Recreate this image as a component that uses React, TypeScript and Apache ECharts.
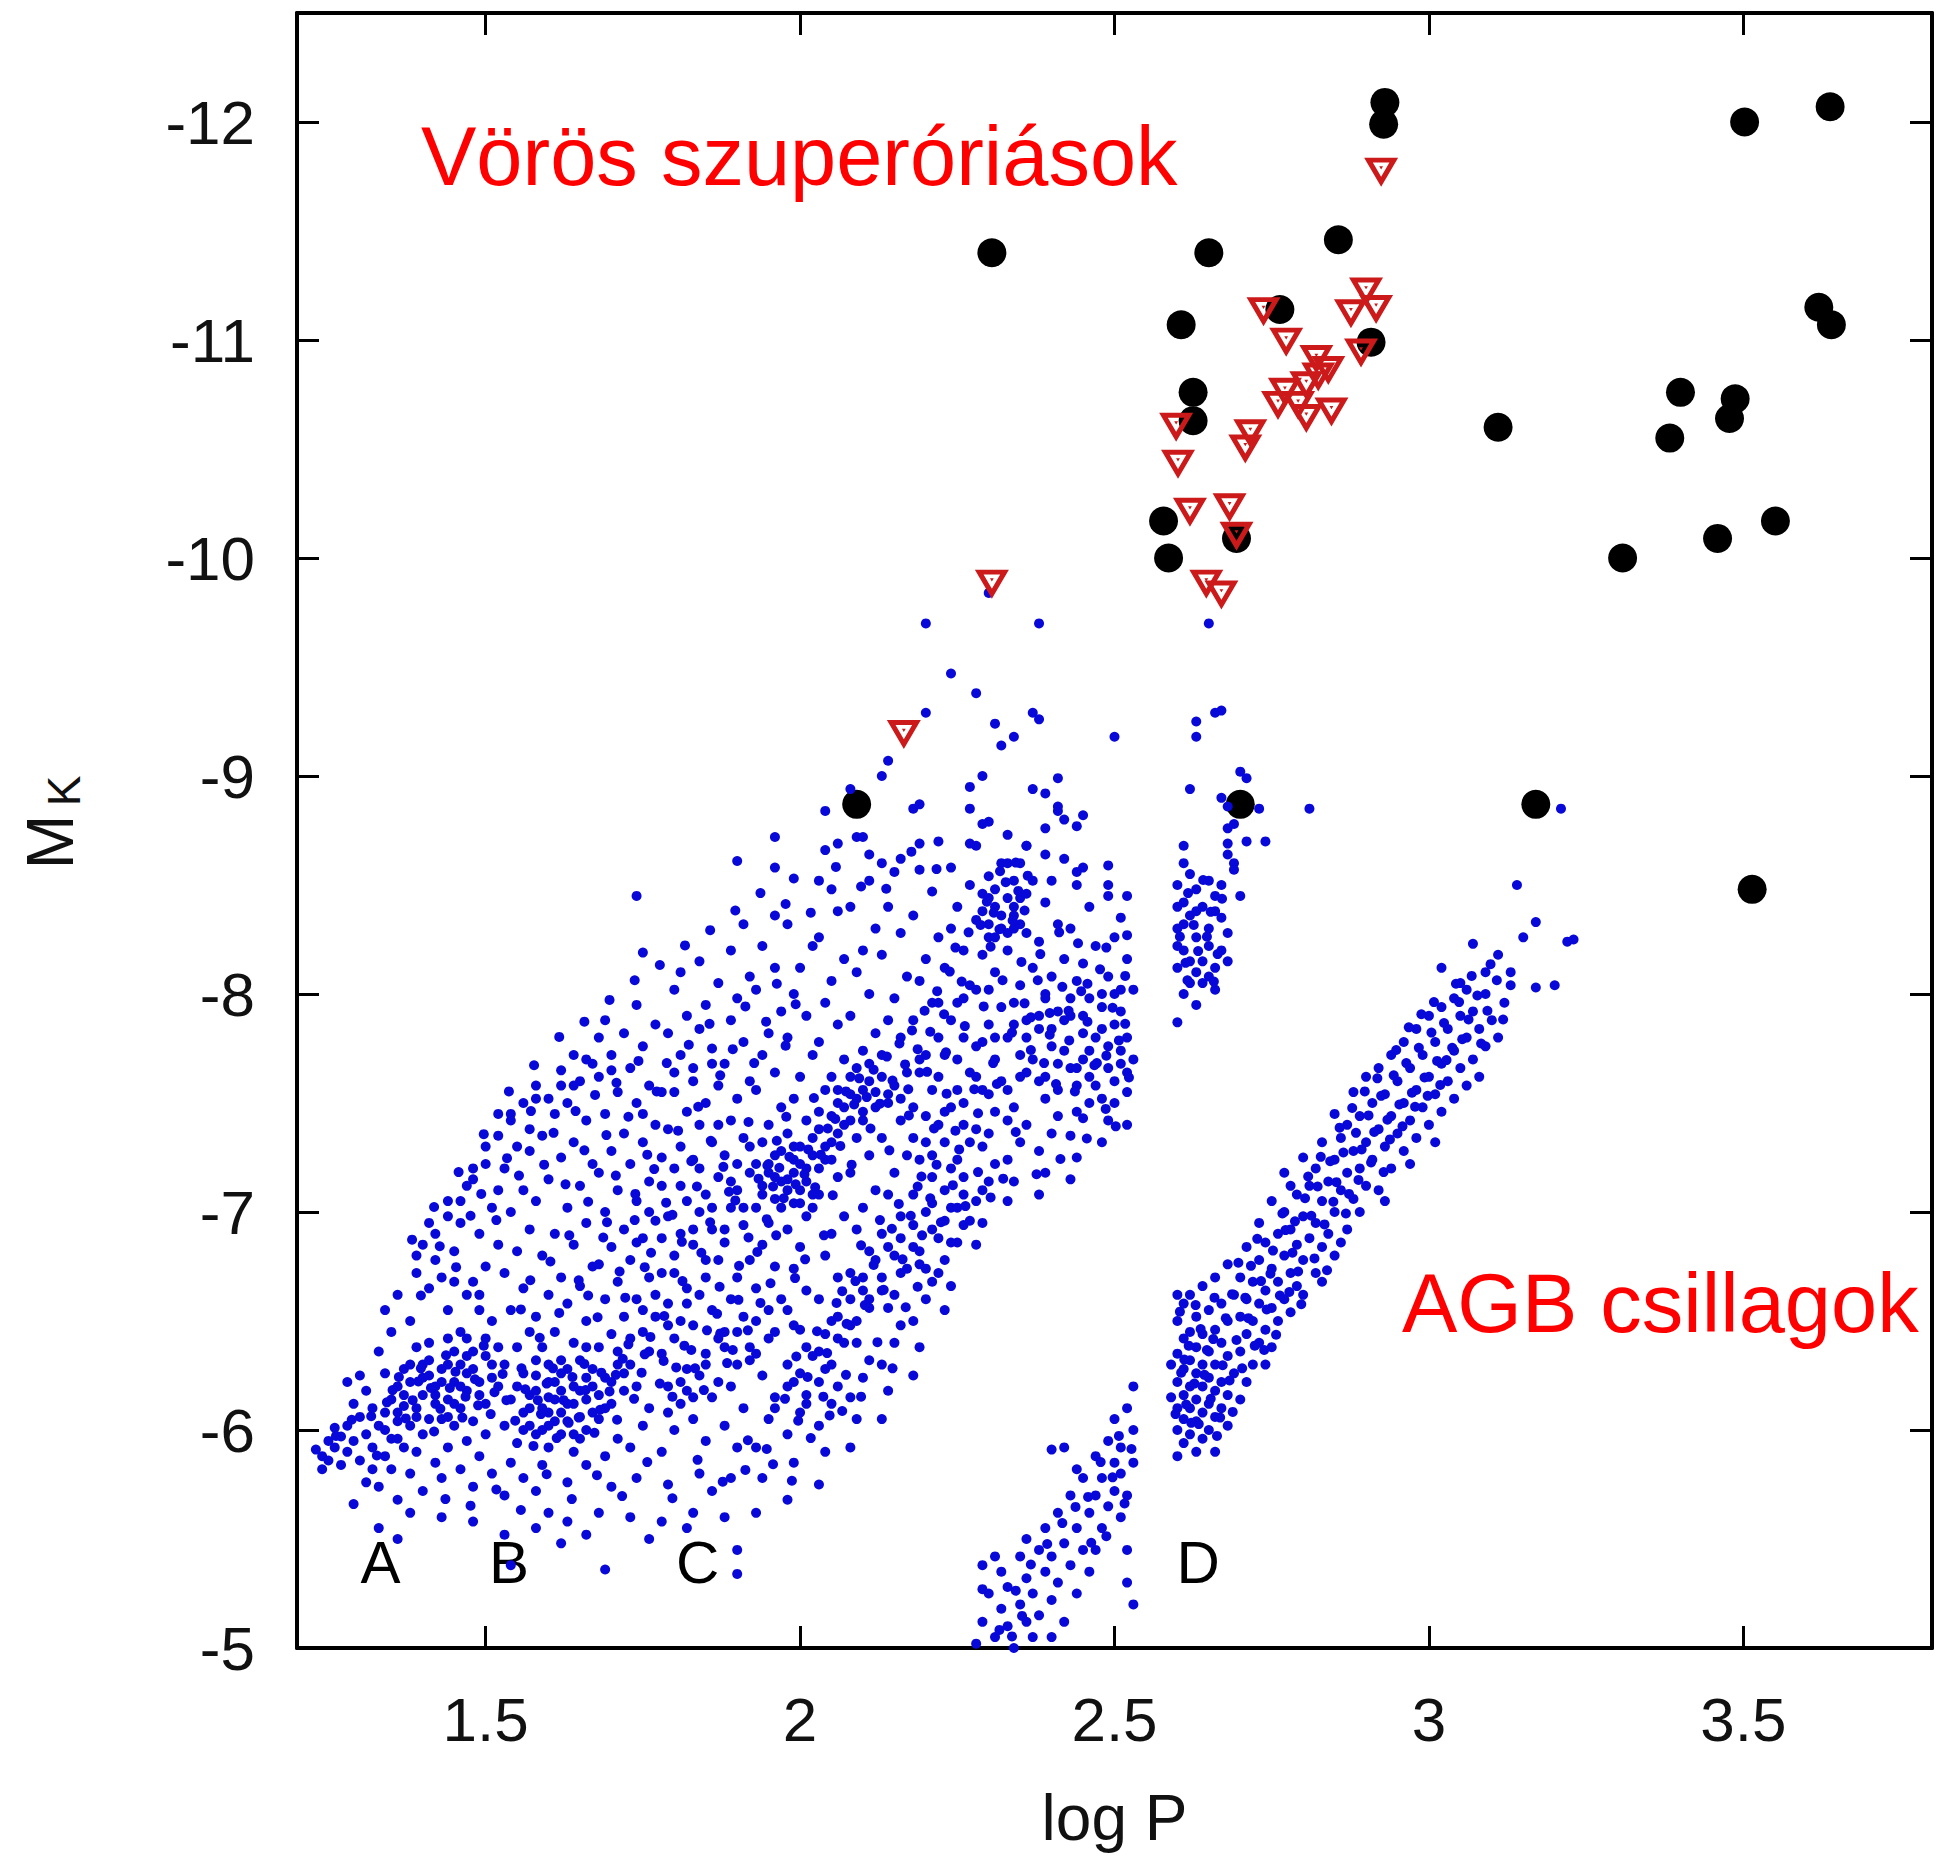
import React, { useEffect, useRef } from 'react';
import * as echarts from 'echarts';

const FONT = 'Liberation Sans, Arial, Helvetica, sans-serif';

const X_MIN = 1.2;
const X_MAX = 3.8;
const Y_MIN = -12.5;
const Y_MAX = -5;
const X_TICKS = [1.5, 2, 2.5, 3, 3.5];
const Y_TICKS = [-12, -11, -10, -9, -8, -7, -6, -5];

const SEQ_NAMES = ['A', 'B', 'C', 'D'];
const SEQ_X = [1.333, 1.537, 1.837, 2.633];
const SEQ_Y = -5.39;

// Red supergiants: filled black circles [logP, MK]
const blackStars = [
  [2.305, -11.4], [2.09, -8.87], [2.65, -11.4], [2.606, -11.07], [2.625, -10.76], [2.625, -10.63],
  [2.578, -10.17], [2.586, -10.0], [2.694, -10.09], [2.70, -8.87], [2.763, -11.14], [2.856, -11.46],
  [2.908, -10.99], [2.93, -12.09], [2.928, -11.99], [3.11, -10.6], [3.17, -8.87], [3.308, -10.0],
  [3.383, -10.55], [3.40, -10.76], [3.478, -10.64], [3.487, -10.73], [3.459, -10.09], [3.551, -10.17],
  [3.502, -12.0], [3.638, -12.07], [3.62, -11.15], [3.64, -11.07], [3.514, -8.48]
];

// Red supergiants: open red triangles [logP, MK]
const redStars = [
  [2.924, -11.77], [2.305, -9.88], [2.165, -9.19], [2.737, -11.13], [2.773, -10.99], [2.90, -11.22],
  [2.876, -11.12], [2.916, -11.14], [2.892, -10.94], [2.821, -10.91], [2.84, -10.86], [2.824, -10.83],
  [2.805, -10.79], [2.771, -10.76], [2.792, -10.7], [2.76, -10.7], [2.805, -10.64], [2.845, -10.67],
  [2.598, -10.6], [2.716, -10.57], [2.708, -10.5], [2.601, -10.43], [2.62, -10.21], [2.683, -10.23],
  [2.694, -10.1], [2.646, -9.88], [2.67, -9.83]
];

// AGB stars (blue dots), flat lists x,y,x,y,...
const blueSeqA = [
  1.23,-5.91, 1.24,-5.88, 1.25,-5.95, 1.25,-5.86, 1.26,-5.92, 1.26,-6.01, 1.27,-5.84, 1.27,-5.97, 1.24,-5.82,
  1.28,-5.9, 1.28,-6.02, 1.29,-5.95, 1.29,-6.12, 1.3,-5.86, 1.3,-6.06, 1.31,-5.98, 1.31,-6.18, 1.32,-5.92, 1.32,-6.1, 1.29,-5.66, 1.31,-5.76, 1.28,-6.22, 1.3,-6.25, 1.32,-5.82,
  1.33,-5.55, 1.33,-5.74, 1.34,-5.88, 1.33,-6.02, 1.34,-6.08, 1.35,-5.96, 1.35,-6.14, 1.36,-6.04, 1.36,-6.2, 1.34,-6.26, 1.37,-5.92, 1.37,-6.11, 1.37,-6.28, 1.35,-5.82, 1.36,-5.68, 1.33,-6.36, 1.35,-6.45, 1.36,-6.62, 1.34,-6.55,
  1.38,-5.62, 1.38,-5.8, 1.39,-5.9, 1.38,-6.02, 1.39,-6.1, 1.4,-6.16, 1.38,-6.22, 1.41,-6.05, 1.41,-6.25, 1.4,-6.3, 1.42,-6.12, 1.42,-6.2, 1.39,-6.38, 1.41,-6.4, 1.4,-5.98, 1.42,-5.85, 1.4,-5.72, 1.38,-6.5, 1.39,-6.72, 1.41,-6.65, 1.4,-6.85, 1.42,-6.78, 1.41,-6.95,
  1.43,-5.6, 1.43,-5.78, 1.44,-5.92, 1.43,-6.05, 1.44,-6.14, 1.45,-6.22, 1.43,-6.28, 1.46,-6.1, 1.46,-6.3, 1.45,-6.36, 1.47,-6.18, 1.47,-6.26, 1.44,-6.42, 1.46,-6.45, 1.45,-6.02, 1.47,-5.95, 1.46,-5.82, 1.44,-6.55, 1.43,-6.7, 1.45,-6.82, 1.47,-6.62, 1.46,-6.95, 1.44,-7.05, 1.47,-7.12, 1.45,-6.68,
  1.48,-5.58, 1.48,-5.74, 1.49,-5.88, 1.48,-6.04, 1.5,-6.12, 1.49,-6.22, 1.51,-6.3, 1.48,-6.36, 1.5,-6.42, 1.52,-6.2, 1.51,-6.5, 1.49,-6.55, 1.52,-6.38, 1.5,-5.98, 1.51,-5.8, 1.48,-6.68, 1.5,-6.75, 1.52,-6.85, 1.49,-6.9, 1.51,-7.02, 1.48,-7.15, 1.5,-7.22, 1.52,-7.1, 1.49,-6.62,
  1.34,-6.0, 1.36,-6.08, 1.37,-6.16, 1.39,-6.06, 1.4,-6.24, 1.42,-6.16, 1.43,-6.22, 1.44,-6.3, 1.45,-6.12, 1.46,-6.2, 1.47,-6.34, 1.48,-6.28, 1.49,-6.16, 1.5,-6.34, 1.51,-6.24, 1.38,-6.3, 1.36,-5.96, 1.41,-6.32, 1.44,-6.06, 1.47,-6.42, 1.36,-5.5
];

const blueSeqB = [
  1.53,-5.52, 1.53,-5.7, 1.54,-5.85, 1.55,-5.94, 1.53,-6.02, 1.56,-6.08, 1.54,-6.14, 1.55,-6.2, 1.57,-6.02, 1.56,-6.26, 1.57,-6.16, 1.53,-6.3, 1.55,-6.38, 1.57,-6.45, 1.54,-6.55, 1.56,-6.65, 1.53,-6.72, 1.55,-6.82, 1.57,-6.92, 1.54,-7.0, 1.56,-7.1, 1.53,-7.2, 1.55,-7.3, 1.57,-7.38, 1.54,-7.45, 1.56,-5.78, 1.54,-5.38,
  1.58,-5.55, 1.58,-5.72, 1.59,-5.84, 1.6,-5.92, 1.58,-5.98, 1.61,-6.04, 1.59,-6.1, 1.6,-6.15, 1.62,-6.08, 1.61,-6.22, 1.58,-6.25, 1.6,-6.3, 1.62,-6.18, 1.59,-6.38, 1.61,-6.45, 1.62,-5.98, 1.6,-6.02, 1.58,-6.52, 1.6,-6.62, 1.62,-6.7, 1.59,-6.8, 1.61,-6.9, 1.58,-7.05, 1.6,-7.15, 1.62,-7.25, 1.59,-7.35, 1.61,-7.45, 1.58,-7.52, 1.62,-7.58, 1.6,-5.62,
  1.63,-5.58, 1.63,-5.76, 1.64,-5.9, 1.65,-5.96, 1.63,-6.04, 1.66,-6.0, 1.64,-6.12, 1.65,-6.18, 1.67,-6.08, 1.66,-6.24, 1.63,-6.28, 1.65,-6.32, 1.67,-6.2, 1.64,-6.4, 1.66,-6.5, 1.63,-6.58, 1.65,-6.66, 1.67,-6.75, 1.64,-6.85, 1.66,-6.95, 1.63,-7.02, 1.65,-7.12, 1.67,-7.22, 1.64,-7.32, 1.66,-7.42, 1.63,-7.5, 1.65,-7.6, 1.67,-7.68, 1.64,-7.72, 1.66,-5.84,
  1.69,-5.36, 1.68,-5.62, 1.7,-5.74, 1.69,-5.88, 1.71,-5.96, 1.68,-6.05, 1.7,-6.12, 1.72,-6.18, 1.69,-6.24, 1.71,-6.3, 1.68,-6.38, 1.7,-6.44, 1.72,-6.52, 1.69,-6.6, 1.71,-6.68, 1.68,-6.76, 1.7,-6.84, 1.72,-6.92, 1.69,-7.0, 1.71,-7.1, 1.68,-7.18, 1.7,-7.28, 1.72,-7.36, 1.69,-7.45, 1.71,-7.55, 1.68,-7.62, 1.7,-7.72, 1.72,-7.82, 1.69,-7.88,
  1.56,-6.0, 1.57,-6.1, 1.58,-6.18, 1.59,-6.0, 1.6,-6.08, 1.61,-6.14, 1.62,-6.26, 1.63,-6.12, 1.64,-6.2, 1.65,-6.06, 1.66,-6.14, 1.67,-6.28, 1.68,-6.16, 1.69,-6.1, 1.7,-6.22, 1.71,-6.36, 1.72,-6.26, 1.64,-5.98, 1.62,-6.32, 1.66,-6.38, 1.58,-6.32, 1.6,-6.22,
  1.39,-6.8, 1.42,-6.9, 1.44,-6.98, 1.46,-7.05, 1.48,-7.2, 1.5,-7.3, 1.52,-7.35, 1.54,-7.42, 1.56,-7.5, 1.58,-7.58, 1.6,-7.52, 1.62,-7.65, 1.64,-7.58, 1.66,-7.7, 1.68,-7.8, 1.7,-7.65, 1.52,-7.45, 1.57,-7.28,
  1.62,-5.48, 1.66,-5.52
];

const blueSeqC = [
  1.73,-5.6, 1.74,-5.78, 1.73,-5.92, 1.75,-6.02, 1.76,-6.1, 1.74,-6.2, 1.73,-6.3, 1.76,-6.36, 1.75,-6.45, 1.77,-6.52, 1.74,-6.6, 1.76,-6.7, 1.73,-6.78, 1.75,-6.88, 1.77,-6.96, 1.74,-7.05, 1.76,-7.14, 1.73,-7.22, 1.75,-7.32, 1.77,-7.4, 1.74,-7.5, 1.76,-7.58, 1.73,-7.66, 1.75,-7.76, 1.77,-7.86, 1.74,-7.95, 1.74,-8.45, 1.75,-8.19,
  1.78,-5.58, 1.79,-5.75, 1.78,-5.9, 1.8,-6.0, 1.81,-6.12, 1.79,-6.2, 1.82,-6.28, 1.78,-6.35, 1.8,-6.42, 1.81,-6.5, 1.79,-6.58, 1.82,-6.65, 1.78,-6.72, 1.8,-6.8, 1.81,-6.9, 1.79,-6.98, 1.82,-7.05, 1.78,-7.12, 1.8,-7.2, 1.81,-7.3, 1.79,-7.38, 1.82,-7.46, 1.78,-7.55, 1.8,-7.64, 1.81,-7.72, 1.79,-7.82, 1.82,-7.9, 1.8,-8.02, 1.81,-8.1, 1.82,-6.18,
  1.83,-5.62, 1.84,-5.8, 1.85,-5.95, 1.83,-6.05, 1.86,-6.15, 1.84,-6.25, 1.85,-6.35, 1.87,-6.42, 1.83,-6.48, 1.86,-6.55, 1.84,-6.62, 1.85,-6.7, 1.87,-6.78, 1.83,-6.85, 1.86,-6.92, 1.84,-7.0, 1.85,-7.08, 1.87,-7.16, 1.83,-7.24, 1.86,-7.32, 1.84,-7.4, 1.85,-7.5, 1.87,-7.58, 1.83,-7.66, 1.86,-7.75, 1.84,-7.84, 1.85,-7.95, 1.87,-8.05, 1.84,-8.15, 1.86,-5.72,
  1.88,-5.6, 1.9,-5.34, 1.89,-5.78, 1.9,-5.92, 1.88,-6.02, 1.91,-6.1, 1.89,-6.2, 1.9,-6.3, 1.92,-6.38, 1.88,-6.45, 1.91,-6.52, 1.89,-6.6, 1.9,-6.7, 1.92,-6.78, 1.88,-6.86, 1.91,-6.94, 1.89,-7.02, 1.9,-7.1, 1.92,-7.18, 1.88,-7.26, 1.91,-7.34, 1.89,-7.42, 1.9,-7.52, 1.92,-7.6, 1.88,-7.68, 1.91,-7.78, 1.89,-7.88, 1.9,-7.98, 1.92,-8.08, 1.89,-8.2, 1.91,-8.32, 1.9,-8.61,
  1.93,-5.62, 1.94,-5.78, 1.93,-5.92, 1.95,-6.05, 1.96,-6.15, 1.94,-6.25, 1.93,-6.35, 1.96,-6.45, 1.95,-6.55, 1.93,-6.65, 1.96,-6.75, 1.94,-6.85, 1.95,-6.95, 1.93,-7.02, 1.96,-7.06, 1.94,-7.12, 1.95,-7.18, 1.97,-7.14, 1.93,-7.22, 1.96,-7.26, 1.94,-7.32, 1.95,-7.4, 1.97,-7.48, 1.93,-7.56, 1.96,-7.64, 1.94,-7.72, 1.95,-7.82, 1.97,-7.92, 1.93,-8.02, 1.96,-8.12, 1.94,-8.22, 1.96,-8.36, 1.96,-8.58, 1.96,-8.72,
  1.98,-5.68, 1.99,-5.85, 1.98,-5.98, 2.0,-6.08, 2.01,-6.16, 1.99,-6.22, 1.98,-6.3, 2.01,-6.38, 2.0,-6.46, 1.98,-6.55, 2.01,-6.64, 1.99,-6.74, 2.0,-6.84, 1.98,-6.92, 2.01,-6.98, 1.99,-7.04, 2.0,-7.1, 1.98,-7.15, 2.02,-7.08, 2.01,-7.2, 1.99,-7.24, 2.0,-7.3, 2.02,-7.26, 1.98,-7.36, 2.01,-7.42, 1.99,-7.52, 2.0,-7.62, 2.02,-7.72, 1.98,-7.8, 2.01,-7.9, 1.99,-8.0, 2.0,-8.12, 2.02,-8.22, 1.98,-8.32, 1.99,-8.53, 2.03,-8.52, 2.04,-8.66,
  1.73,-6.42, 1.75,-6.55, 1.77,-6.62, 1.79,-6.48, 1.8,-6.72, 1.82,-6.58, 1.83,-6.92, 1.85,-6.78, 1.86,-7.02, 1.88,-6.92, 1.89,-7.14, 1.91,-7.02, 1.92,-7.3, 1.74,-6.86, 1.76,-7.0, 1.78,-6.88, 1.81,-7.12, 1.84,-7.2, 1.87,-7.4, 1.9,-7.22, 1.78,-7.25, 1.75,-7.45, 1.8,-7.55, 1.83,-7.6, 1.86,-7.68,
  1.79,-6.08, 1.81,-6.22, 1.83,-6.15, 1.85,-6.3, 1.87,-6.22, 1.88,-6.38, 1.9,-6.45, 1.92,-6.32, 1.93,-6.5, 1.95,-6.42, 1.97,-6.6, 1.99,-6.48,
  1.76,-5.5, 1.82,-5.55, 1.9,-5.45
];

const blueSeqCR = [
  2.03,-5.75, 2.04,-5.9, 2.03,-6.02, 2.05,-6.12, 2.06,-6.2, 2.04,-6.28, 2.03,-6.36, 2.06,-6.42, 2.05,-6.5, 2.03,-6.6, 2.06,-6.7, 2.04,-6.8, 2.05,-6.9, 2.07,-6.98, 2.03,-7.08, 2.06,-7.16, 2.04,-7.24, 2.05,-7.32, 2.07,-7.4, 2.03,-7.46, 2.06,-7.5, 2.04,-7.56, 2.05,-7.62, 2.07,-7.7, 2.03,-7.78, 2.06,-7.86, 2.04,-7.96, 2.05,-8.06, 2.07,-8.16, 2.03,-8.26, 2.06,-8.38, 2.05,-8.48,
  2.08,-5.92, 2.09,-6.05, 2.08,-6.15, 2.1,-6.24, 2.11,-6.32, 2.09,-6.4, 2.08,-6.48, 2.11,-6.56, 2.1,-6.64, 2.08,-6.72, 2.11,-6.82, 2.09,-6.92, 2.1,-7.02, 2.12,-7.1, 2.08,-7.18, 2.11,-7.26, 2.09,-7.34, 2.1,-7.42, 2.12,-7.48, 2.08,-7.54, 2.11,-7.6, 2.09,-7.66, 2.1,-7.74, 2.12,-7.82, 2.08,-7.9, 2.11,-8.0, 2.09,-8.1, 2.1,-8.2, 2.12,-8.3, 2.08,-8.4, 2.11,-8.52, 2.09,-8.72, 2.11,-8.64,
  2.13,-6.05, 2.14,-6.18, 2.13,-6.3, 2.15,-6.4, 2.16,-6.48, 2.14,-6.56, 2.13,-6.64, 2.16,-6.72, 2.15,-6.8, 2.13,-6.9, 2.16,-6.98, 2.14,-7.08, 2.15,-7.18, 2.17,-7.26, 2.13,-7.34, 2.16,-7.42, 2.14,-7.5, 2.15,-7.58, 2.17,-7.64, 2.13,-7.72, 2.16,-7.8, 2.14,-7.88, 2.15,-7.98, 2.17,-8.08, 2.13,-8.18, 2.16,-8.28, 2.14,-8.4, 2.15,-8.56, 2.16,-8.62,
  2.18,-6.25, 2.19,-6.38, 2.18,-6.5, 2.2,-6.6, 2.21,-6.68, 2.19,-6.76, 2.18,-6.84, 2.21,-6.92, 2.2,-7.0, 2.18,-7.08, 2.21,-7.16, 2.19,-7.24, 2.2,-7.32, 2.22,-7.4, 2.18,-7.48, 2.21,-7.56, 2.19,-7.64, 2.2,-7.72, 2.22,-7.8, 2.18,-7.88, 2.21,-7.96, 2.19,-8.06, 2.2,-8.16, 2.22,-8.26, 2.18,-8.36, 2.21,-8.47, 2.19,-8.57, 2.22,-6.72,
  2.23,-6.55, 2.24,-6.66, 2.23,-6.78, 2.25,-6.86, 2.26,-6.94, 2.24,-7.02, 2.23,-7.1, 2.26,-7.16, 2.25,-7.24, 2.23,-7.32, 2.26,-7.4, 2.24,-7.48, 2.25,-7.56, 2.27,-7.64, 2.23,-7.72, 2.26,-7.8, 2.24,-7.88, 2.25,-7.96, 2.27,-8.04, 2.23,-8.12, 2.26,-8.2, 2.24,-8.3, 2.25,-8.4, 2.27,-8.5, 2.24,-8.58, 2.26,-7.08,
  1.94,-7.08, 1.95,-7.22, 1.97,-7.02, 1.97,-7.28, 1.98,-7.1, 1.99,-7.18, 2.0,-7.04, 2.0,-7.22, 2.01,-7.14, 2.02,-7.34, 2.03,-7.2, 2.03,-7.38, 2.04,-7.3, 2.05,-7.44, 2.06,-7.36, 2.06,-7.56, 2.07,-7.48, 2.08,-7.42, 2.08,-7.62, 2.09,-7.52, 2.1,-7.56, 2.1,-7.46, 2.11,-7.68, 2.12,-7.55, 2.13,-7.62, 2.14,-7.54, 1.96,-7.16, 1.99,-7.3, 2.02,-7.02, 2.05,-7.24,
  1.96,-6.1, 1.98,-6.2, 2.0,-6.26, 2.01,-6.12, 2.02,-6.34, 2.03,-6.22, 2.04,-6.44, 2.05,-6.3, 2.06,-6.52, 2.07,-6.4, 2.08,-6.6, 2.09,-6.5, 2.1,-6.7, 2.11,-6.6, 2.12,-6.78, 2.13,-6.7, 2.14,-6.84, 2.15,-6.62, 2.16,-6.88, 2.17,-6.74, 2.18,-6.94, 2.19,-6.82, 2.2,-6.74, 2.21,-7.04, 2.22,-6.88, 2.23,-6.96, 2.24,-6.86, 2.25,-7.02, 2.27,-6.96, 2.29,-7.1
];

const blueSeqR = [
  2.28,-6.85, 2.29,-6.95, 2.28,-7.05, 2.3,-7.14, 2.31,-7.22, 2.29,-7.3, 2.28,-7.38, 2.31,-7.46, 2.3,-7.54, 2.28,-7.62, 2.31,-7.7, 2.29,-7.78, 2.3,-7.86, 2.32,-7.94, 2.28,-8.02, 2.31,-8.1, 2.29,-8.18, 2.3,-8.26, 2.32,-8.3, 2.28,-8.34, 2.31,-8.4, 2.29,-8.46, 2.3,-8.54, 2.32,-8.6, 2.28,-8.68,
  2.33,-7.05, 2.34,-7.14, 2.33,-7.24, 2.35,-7.32, 2.36,-7.4, 2.34,-7.48, 2.33,-7.56, 2.36,-7.64, 2.35,-7.72, 2.33,-7.8, 2.36,-7.88, 2.34,-7.96, 2.35,-8.04, 2.37,-8.12, 2.33,-8.2, 2.36,-8.28, 2.34,-8.36, 2.35,-8.44, 2.37,-8.52, 2.33,-8.6, 2.36,-8.68, 2.34,-8.3,
  2.38,-7.08, 2.39,-7.18, 2.38,-7.28, 2.4,-7.36, 2.41,-7.44, 2.39,-7.52, 2.38,-7.6, 2.41,-7.68, 2.4,-7.76, 2.38,-7.84, 2.41,-7.92, 2.39,-8.0, 2.4,-8.08, 2.42,-8.16, 2.38,-8.24, 2.41,-8.32, 2.39,-8.42, 2.4,-8.52, 2.42,-8.62,
  2.43,-7.15, 2.44,-7.25, 2.43,-7.35, 2.45,-7.43, 2.46,-7.5, 2.44,-7.58, 2.43,-7.66, 2.46,-7.74, 2.45,-7.82, 2.43,-7.9, 2.46,-7.98, 2.44,-8.06, 2.45,-8.14, 2.47,-8.22, 2.43,-8.3, 2.46,-8.4, 2.44,-8.5, 2.45,-8.58,
  2.48,-7.32, 2.49,-7.42, 2.48,-7.52, 2.5,-7.6, 2.51,-7.68, 2.49,-7.76, 2.48,-7.84, 2.51,-7.92, 2.5,-8.0, 2.52,-7.55, 2.52,-7.8, 2.49,-8.08, 2.52,-8.16, 2.5,-8.26, 2.51,-8.35, 2.49,-8.45, 2.53,-7.7, 2.53,-8.02, 2.52,-7.4,
  2.29,-8.38, 2.3,-8.32, 2.31,-8.48, 2.32,-8.36, 2.33,-8.28, 2.33,-8.44, 2.34,-8.4, 2.35,-8.32, 2.36,-8.46, 2.31,-8.26, 2.34,-8.52, 2.3,-8.44,
  2.37,-7.7, 2.38,-7.9, 2.39,-7.62, 2.4,-7.84, 2.41,-7.56, 2.42,-7.74, 2.43,-7.98, 2.44,-7.66, 2.45,-7.9, 2.46,-7.62, 2.47,-7.8, 2.48,-8.0, 2.49,-7.66, 2.5,-7.86, 2.51,-7.74, 2.5,-7.5, 2.47,-7.58, 2.44,-7.46, 2.42,-7.88, 2.39,-7.98, 2.36,-7.8, 2.52,-7.64, 2.51,-8.02, 2.48,-7.94, 2.45,-7.7,
  2.16,-7.52, 2.18,-7.34, 2.19,-7.7, 2.2,-7.44, 2.21,-7.26, 2.22,-7.62, 2.23,-7.46, 2.24,-7.2, 2.25,-7.7, 2.26,-7.5, 2.27,-7.32, 2.28,-7.76, 2.29,-7.56, 2.3,-7.36, 2.31,-7.8, 2.32,-7.6, 2.33,-7.42, 2.34,-7.86, 2.35,-7.62, 2.22,-7.96, 2.26,-7.98, 2.3,-8.02
];

// additional irregularly placed stars inside the dense parts of the main band
const blueFillMain = [
  1.262,-5.973, 1.287,-6.047, 1.318,-6.063, 1.343,-6.127, 1.362,-6.243, 1.384,-6.137, 1.397,-6.283, 1.413,-6.193, 1.428,-6.097, 1.437,-6.343,
  1.452,-6.267, 1.468,-6.153, 1.483,-6.233, 1.497,-6.387, 1.514,-6.173, 1.527,-6.257, 1.547,-6.043, 1.563,-6.187, 1.576,-5.927, 1.588,-6.073,
  1.597,-6.213, 1.613,-5.963, 1.624,-6.137, 1.638,-6.243, 1.648,-6.057, 1.659,-6.183, 1.673,-5.987, 1.684,-6.263, 1.697,-6.177, 1.709,-6.047,
  1.718,-6.327, 1.736,-6.143, 1.748,-6.263, 1.762,-6.427, 1.783,-6.317, 1.797,-6.153, 1.816,-6.387, 1.833,-6.283, 1.852,-6.457, 1.868,-6.533,
  1.884,-6.307, 1.902,-6.597, 1.917,-6.457, 1.937,-6.583, 1.953,-6.673,
  1.397,-6.617, 1.427,-6.843, 1.453,-6.747, 1.476,-6.983, 1.493,-7.083, 1.517,-6.963, 1.534,-7.247, 1.553,-7.167, 1.572,-7.463, 1.593,-7.217,
  1.608,-7.363, 1.627,-7.127, 1.643,-7.463, 1.657,-7.283, 1.674,-7.537, 1.692,-7.353, 1.708,-7.593, 1.727,-7.437, 1.743,-7.693, 1.757,-7.263,
  1.772,-7.553, 1.788,-7.683, 1.806,-7.373, 1.823,-7.767, 1.838,-7.483, 1.856,-7.863, 1.873,-7.627, 1.893,-7.747, 1.913,-7.943, 1.927,-7.683,
  1.946,-7.873, 1.963,-8.047, 1.977,-7.763, 1.993,-7.953,
  1.663,-6.617, 1.687,-6.883, 1.713,-6.727, 1.737,-6.963, 1.763,-6.813, 1.787,-7.043, 1.812,-6.863, 1.836,-7.117, 1.857,-6.953, 1.878,-7.207,
  1.897,-7.053, 1.918,-6.883, 1.934,-7.153, 1.947,-6.967, 1.963,-7.327,
  1.957,-7.117, 1.967,-7.203, 1.974,-7.063, 1.983,-7.253, 1.993,-7.127, 2.007,-7.173, 2.013,-7.287, 2.024,-7.113, 2.033,-7.263, 2.044,-7.383,
  2.056,-7.427, 2.064,-7.303, 2.073,-7.553, 2.086,-7.493, 2.094,-7.613, 2.106,-7.527, 2.117,-7.653, 2.127,-7.497, 2.138,-7.713, 2.147,-7.603,
  2.158,-7.773, 2.167,-7.677, 2.178,-7.833, 2.187,-7.747, 2.198,-7.923, 2.207,-7.827, 2.218,-8.013, 2.229,-7.907, 2.238,-8.103, 2.247,-8.213,
  2.257,-8.057, 2.268,-8.283,
  2.287,-8.317, 2.297,-8.423, 2.308,-8.373, 2.317,-8.297, 2.327,-8.513, 2.338,-8.337, 2.347,-8.473, 2.357,-8.383, 2.318,-8.563, 2.343,-8.603,
  2.362,-8.543, 2.303,-8.217,
  2.357,-7.957, 2.367,-7.743, 2.378,-8.063, 2.388,-7.683, 2.397,-7.913, 2.407,-7.587, 2.417,-8.033, 2.428,-7.787, 2.437,-7.553, 2.447,-8.013,
  2.457,-7.873, 2.468,-7.673, 2.477,-8.113, 2.487,-7.717, 2.497,-7.937, 2.507,-7.787, 2.517,-8.083, 2.523,-7.617, 2.486,-7.473, 2.456,-7.337,
  2.414,-7.243, 2.376,-7.173, 2.343,-7.367, 2.313,-7.587, 2.283,-7.453, 2.253,-7.287, 2.233,-7.543, 2.213,-7.383, 2.193,-7.163, 2.173,-7.443,
  1.976,-6.143, 1.994,-6.337, 2.012,-6.243, 2.027,-6.453, 2.043,-6.353, 2.058,-6.583, 2.074,-6.487, 2.088,-6.683, 2.103,-6.573, 2.117,-6.757,
  2.133,-6.643, 2.146,-6.923, 2.163,-6.783, 2.176,-6.983, 2.194,-6.893, 2.207,-7.063, 2.224,-6.953, 2.243,-7.123, 2.263,-7.027, 2.283,-7.183,
  2.303,-7.067, 2.323,-7.153,
  1.913,-5.817, 1.947,-5.913, 1.987,-5.767, 2.017,-5.963, 2.047,-6.067, 2.073,-6.253, 2.097,-6.153, 2.123,-6.403, 2.147,-6.283, 2.168,-6.563,
  2.187,-6.657
];

const blueFillMore = [
  1.556,-6.553, 1.571,-6.687, 1.586,-6.423, 1.603,-6.773, 1.617,-6.537, 1.633,-6.893, 1.648,-6.687, 1.663,-7.047, 1.678,-6.517, 1.693,-6.953,
  1.707,-7.167, 1.722,-6.607, 1.738,-7.083, 1.753,-6.747, 1.768,-7.197, 1.784,-6.523, 1.797,-6.987, 1.813,-6.683, 1.827,-7.233, 1.843,-6.813,
  1.858,-7.327, 1.872,-6.657, 1.887,-7.093, 1.903,-6.753, 1.918,-7.413, 1.932,-6.817, 1.948,-7.213, 1.962,-6.893, 1.978,-7.437, 1.992,-6.697,
  2.008,-6.783, 2.022,-7.523, 2.038,-6.893, 2.052,-7.077, 2.067,-6.637, 2.082,-7.217, 2.097,-6.847, 2.112,-7.383, 2.127,-6.963, 2.142,-7.283,
  2.157,-7.037, 2.172,-7.563, 2.187,-7.117, 2.202,-7.643, 2.217,-7.217, 2.232,-7.733, 2.247,-7.373, 2.262,-7.853, 2.277,-7.563, 2.292,-7.943,
  2.307,-7.683, 2.322,-8.063, 2.337,-7.823, 2.352,-8.147, 2.367,-7.893, 2.382,-8.183, 2.397,-7.813, 2.412,-8.283, 2.427,-7.923, 2.442,-8.233,
  2.457,-8.047, 2.472,-7.683, 2.487,-8.213, 2.502,-7.393, 2.517,-7.863,
  1.327,-5.883, 1.352,-6.183, 1.373,-6.053, 1.393,-6.223, 1.418,-5.993, 1.443,-6.193, 1.463,-6.057, 1.488,-6.113, 1.508,-6.073, 1.533,-6.137,
  1.557,-6.283, 1.583,-6.137, 1.607,-6.283, 1.632,-6.033, 1.657,-6.303, 1.682,-6.093, 1.707,-6.253, 1.727,-6.393, 1.753,-6.347, 1.777,-6.213,
  1.803,-6.287, 1.827,-6.367, 1.847,-6.183, 1.873,-6.443, 1.893,-6.367,
  1.436,-5.683, 1.476,-5.653, 1.517,-5.727, 1.556,-5.633, 1.597,-5.797, 1.637,-5.683, 1.677,-5.793, 1.717,-5.697, 1.757,-5.853, 1.797,-5.687,
  1.837,-5.863, 1.877,-5.763, 1.917,-5.953, 1.957,-5.843, 1.997,-6.043, 2.037,-6.153, 2.067,-6.087,
  1.383,-6.873, 1.418,-7.023, 1.457,-7.183, 1.497,-7.357, 1.537,-7.553, 1.577,-7.673, 1.617,-7.803, 1.657,-7.873, 1.697,-7.973, 1.737,-8.063,
  1.777,-8.133, 1.817,-8.223, 1.857,-8.293, 1.897,-8.383, 1.937,-8.463, 1.977,-8.413, 2.017,-8.373, 2.057,-8.583, 2.097,-8.493, 2.137,-8.483,
  2.177,-8.653, 2.217,-8.573
];

const blueSparseTop = [
  2.2,-9.7, 2.38,-9.7, 2.24,-9.47, 2.28,-9.38, 2.2,-9.29, 2.31,-9.24, 2.37,-9.29, 2.38,-9.26, 2.34,-9.18, 2.32,-9.14, 2.5,-9.18,
  2.29,-9.0, 2.27,-8.95, 2.41,-8.99, 2.37,-8.94, 2.39,-8.92, 2.18,-8.85, 2.27,-8.85, 2.41,-8.84, 2.42,-8.8, 2.3,-8.79, 2.44,-8.77,
  2.33,-8.73, 2.39,-8.76, 2.36,-8.68, 2.39,-8.64, 2.3,-9.84, 2.14,-9.07, 2.13,-9.0, 2.08,-8.94, 2.04,-8.84, 2.19,-8.87, 2.06,-8.69,
  2.1,-8.72, 2.13,-8.6, 2.19,-8.69, 2.22,-8.7, 2.27,-8.69, 2.29,-8.78, 2.45,-8.82, 2.41,-8.86, 2.44,-8.56, 2.49,-8.5, 2.52,-8.45,
  2.52,-8.27, 2.49,-8.59, 2.35,-8.6
];

const blueDUpper = [
  2.65,-9.7, 2.66,-9.29, 2.63,-9.25, 2.63,-9.18, 2.7,-9.02, 2.71,-8.99, 2.62,-8.94, 2.68,-8.86, 2.67,-8.9, 2.73,-8.85, 2.81,-8.85,
  2.68,-8.76, 2.69,-8.78, 2.74,-8.7, 2.68,-8.69, 2.68,-8.64, 2.69,-8.6, 2.69,-8.57, 2.7,-8.45, 2.61,-8.68, 2.61,-8.6, 2.67,-9.3, 2.71,-8.7,
  2.6,-8.5, 2.61,-8.42, 2.6,-8.3, 2.62,-8.36, 2.61,-8.2, 2.6,-8.12, 2.62,-8.05, 2.63,-8.48, 2.63,-8.26, 2.64,-8.4, 2.64,-8.15, 2.63,-8.1,
  2.65,-8.3, 2.65,-8.22, 2.66,-8.45, 2.66,-8.12, 2.67,-8.35, 2.67,-8.2, 2.65,-8.52, 2.62,-8.55, 2.6,-8.22, 2.61,-8.32, 2.64,-8.05, 2.66,-8.02,
  2.68,-8.28, 2.62,-8.15, 2.63,-8.38, 2.65,-8.08, 2.6,-8.4, 2.67,-8.5, 2.68,-8.15, 2.61,-8.0, 2.63,-7.95, 2.6,-7.87, 2.66,-8.38,
  2.604,-8.263, 2.613,-8.143, 2.617,-8.463, 2.626,-8.317, 2.633,-8.197, 2.641,-8.523, 2.647,-8.263, 2.653,-8.377, 2.664,-8.183, 2.671,-8.437,
  2.616,-8.063, 2.658,-8.057
];

const blueDLower = [
  2.6,-5.88, 2.6,-6.0, 2.6,-6.1, 2.6,-6.22, 2.6,-6.35, 2.6,-6.5, 2.61,-5.94, 2.61,-6.05, 2.61,-6.16, 2.61,-6.28, 2.61,-6.42, 2.61,-6.58,
  2.62,-5.98, 2.62,-6.1, 2.62,-6.2, 2.62,-6.32, 2.62,-6.45, 2.62,-6.62, 2.63,-5.9, 2.63,-6.04, 2.63,-6.14, 2.63,-6.26, 2.63,-6.38, 2.63,-6.52,
  2.64,-5.96, 2.64,-6.08, 2.64,-6.2, 2.64,-6.3, 2.64,-6.44, 2.64,-6.66, 2.65,-6.0, 2.65,-6.12, 2.65,-6.24, 2.65,-6.36, 2.65,-6.55,
  2.66,-5.9, 2.66,-6.06, 2.66,-6.18, 2.66,-6.3, 2.66,-6.46, 2.66,-6.7, 2.67,-6.1, 2.67,-6.22, 2.67,-6.4, 2.67,-6.58,
  2.68,-6.02, 2.68,-6.16, 2.68,-6.34, 2.68,-6.5, 2.68,-6.76, 2.69,-6.26, 2.69,-6.62, 2.6,-6.62, 2.59,-6.3, 2.59,-6.15,
  2.7,-6.14, 2.7,-6.36, 2.7,-6.52, 2.7,-6.7, 2.71,-6.22, 2.71,-6.44, 2.71,-6.6, 2.71,-6.84, 2.72,-6.3, 2.72,-6.5, 2.72,-6.68,
  2.73,-6.4, 2.73,-6.58, 2.73,-6.78, 2.73,-6.95, 2.74,-6.46, 2.74,-6.64, 2.74,-6.86, 2.75,-6.38, 2.75,-6.56, 2.75,-6.74, 2.75,-7.05,
  2.76,-6.5, 2.76,-6.68, 2.76,-6.9, 2.77,-6.6, 2.77,-6.8, 2.77,-7.0, 2.77,-7.18, 2.78,-6.54, 2.78,-6.72, 2.78,-6.92, 2.79,-6.66,
  2.79,-6.85, 2.79,-7.08, 2.8,-6.62, 2.8,-6.78, 2.8,-6.98, 2.8,-7.25, 2.81,-6.88, 2.81,-7.12, 2.82,-6.72, 2.82,-6.95, 2.82,-7.2,
  2.83,-6.84, 2.83,-7.05, 2.83,-7.32, 2.84,-6.9, 2.84,-7.14, 2.85,-6.8, 2.85,-7.0, 2.85,-7.24, 2.85,-7.45, 2.86,-7.1, 2.86,-7.34,
  2.87,-6.92, 2.87,-7.18, 2.87,-7.4, 2.88,-7.06, 2.88,-7.28, 2.88,-7.55, 2.89,-7.0, 2.89,-7.2, 2.89,-7.44, 2.9,-7.12, 2.9,-7.32,
  2.9,-7.62, 2.91,-7.24, 2.91,-7.5, 2.92,-7.1, 2.92,-7.38, 2.92,-7.66, 2.93,-7.3, 2.93,-7.54, 2.94,-7.2, 2.94,-7.44, 2.94,-7.72,
  2.95,-7.36, 2.95,-7.6, 2.96,-7.28, 2.96,-7.5, 2.96,-7.78, 2.97,-7.42, 2.97,-7.66, 2.98,-7.34, 2.98,-7.56, 2.98,-7.84, 2.99,-7.48,
  2.99,-7.72, 3.0,-7.4, 3.0,-7.62, 3.0,-7.9, 3.01,-7.54, 3.01,-7.78, 3.02,-7.46, 3.02,-7.68, 3.02,-7.94, 3.03,-7.6, 3.03,-7.84,
  3.04,-7.52, 3.04,-7.74, 3.05,-7.66, 3.05,-7.9, 3.06,-7.58, 3.06,-7.8, 3.06,-8.02, 3.07,-7.7, 3.07,-7.92, 3.08,-7.62, 3.08,-7.84,
  3.09,-7.76, 3.09,-8.0, 3.1,-7.88, 3.11,-7.8, 3.12,-7.96, 3.13,-8.1, 3.04,-7.98, 3.01,-7.32, 2.97,-7.22, 2.93,-7.05, 2.86,-6.86,
  2.83,-6.68, 2.78,-7.12, 2.74,-6.3,
  2.597,-6.073, 2.606,-6.263, 2.614,-6.117, 2.618,-6.387, 2.627,-6.213, 2.634,-6.027, 2.637,-6.463, 2.643,-6.253, 2.653,-6.143, 2.657,-6.417,
  2.663,-5.973, 2.672,-6.297, 2.677,-6.513, 2.683,-6.227, 2.687,-6.623, 2.694,-6.413, 2.703,-6.283, 2.708,-6.607, 2.717,-6.753, 2.723,-6.387,
  2.733,-6.683, 2.742,-6.553, 2.752,-6.823, 2.763,-6.617, 2.772,-6.917, 2.783,-6.813, 2.792,-6.727, 2.803,-7.063, 2.813,-6.983, 2.823,-7.117,
  2.834,-6.943, 2.843,-7.233, 2.853,-7.137, 2.864,-7.273, 2.873,-7.083, 2.884,-7.363, 2.893,-7.287, 2.904,-7.443, 2.913,-7.367, 2.924,-7.533,
  2.934,-7.423, 2.944,-7.627, 2.953,-7.493, 2.964,-7.683, 2.973,-7.547, 2.984,-7.753, 2.993,-7.617, 3.004,-7.823, 3.013,-7.693, 3.024,-7.867,
  3.037,-7.753, 3.048,-7.963, 3.063,-7.883, 3.077,-7.993, 3.093,-7.923, 3.108,-8.063,
  2.604,-6.543, 2.611,-6.323, 2.622,-6.033, 2.629,-6.573, 2.647,-6.367, 2.659,-6.607, 2.668,-6.057, 2.688,-6.083, 2.697,-6.767, 2.713,-6.513,
  2.727,-6.877, 2.738,-6.367, 2.748,-6.717, 2.757,-6.437, 2.767,-6.993, 2.778,-6.633, 2.787,-6.957, 2.797,-6.577, 2.808,-7.163, 2.818,-6.787,
  2.828,-7.253, 2.838,-6.733, 2.848,-7.047, 2.858,-7.387, 2.868,-6.993, 2.878,-7.477, 2.888,-7.147, 2.898,-7.553, 2.908,-7.227, 2.918,-7.613,
  2.928,-7.183, 2.938,-7.333, 2.948,-7.743, 2.958,-7.393, 2.968,-7.847, 2.978,-7.483, 2.988,-7.907, 2.998,-7.533, 3.008,-7.963, 3.018,-7.583,
  3.028,-7.697, 3.043,-8.047, 3.053,-7.793, 3.068,-8.083, 3.083,-7.773, 3.098,-8.137, 3.118,-7.883
];

const blueDStrays = [
  3.14,-8.5, 3.17,-8.33, 3.15,-8.26, 3.22,-8.24, 3.07,-8.23, 3.09,-8.1, 3.05,-8.05, 3.13,-8.04, 3.17,-8.03, 3.2,-8.04,
  3.21,-8.85, 3.23,-8.25, 3.11,-8.18, 3.02,-8.12
];

const blueSeqE = [
  2.28,-5.02, 2.29,-5.12, 2.3,-5.25, 2.31,-5.05, 2.32,-5.18, 2.32,-5.35, 2.33,-5.1, 2.33,-5.28, 2.34,-5.0, 2.35,-5.2, 2.35,-5.42,
  2.36,-5.12, 2.36,-5.32, 2.37,-5.05, 2.37,-5.25, 2.38,-5.45, 2.38,-5.15, 2.39,-5.35, 2.39,-5.55, 2.4,-5.22, 2.4,-5.42, 2.41,-5.3,
  2.41,-5.62, 2.42,-5.48, 2.42,-5.12, 2.43,-5.38, 2.43,-5.7, 2.44,-5.55, 2.44,-5.25, 2.45,-5.45, 2.45,-5.78, 2.46,-5.62, 2.46,-5.35,
  2.47,-5.7, 2.47,-5.88, 2.48,-5.55, 2.48,-5.78, 2.49,-5.65, 2.49,-5.95, 2.5,-5.72, 2.5,-5.85, 2.5,-6.05, 2.51,-5.6, 2.51,-5.8,
  2.51,-5.92, 2.52,-5.7, 2.52,-6.1, 2.52,-5.45, 2.53,-5.85, 2.53,-6.0, 2.53,-6.2, 2.52,-5.3, 2.53,-5.2, 2.47,-5.45, 2.44,-5.82,
  2.4,-5.05, 2.36,-5.5, 2.31,-5.42, 2.29,-5.38, 2.4,-5.91, 2.42,-5.92, 2.29,-5.27,
  2.317,-5.083, 2.343,-5.263, 2.367,-5.383, 2.393,-5.477, 2.417,-5.573, 2.438,-5.647, 2.458,-5.693, 2.478,-5.853, 2.497,-5.783, 2.507,-5.973,
  2.516,-5.663, 2.527,-5.913, 2.487,-5.513, 2.463,-5.483, 2.337,-5.053, 2.353,-5.147
];

function pairs(flat: number[]): number[][] {
  const out: number[][] = [];
  for (let i = 0; i + 1 < flat.length; i += 2) out.push([flat[i], flat[i + 1]]);
  return out;
}

const TRIANGLE_PATH =
  'path://M0,0L32,0L16,27ZM8.2,4.6L16,17.8L23.8,4.6ZM14.2,8L17.8,8L16,11Z';

export default function App() {
  const ref = useRef<HTMLDivElement>(null);

  useEffect(() => {
    document.body.style.margin = '0';
    if (!ref.current) return;
    const chart = echarts.init(ref.current, null, { renderer: 'svg' });

    const blue = pairs([
      ...blueSeqA, ...blueSeqB, ...blueSeqC, ...blueSeqCR, ...blueSeqR, ...blueFillMain, ...blueFillMore,
      ...blueSparseTop, ...blueDUpper, ...blueDLower, ...blueDStrays, ...blueSeqE
    ]);

    const axisLine = { show: true, onZero: false, lineStyle: { color: '#000', width: 4 } };
    const tickX = { show: true, inside: true, length: 22, lineStyle: { color: '#000', width: 3 }, customValues: X_TICKS };
    const tickY = { show: true, inside: true, length: 22, lineStyle: { color: '#000', width: 3 }, customValues: Y_TICKS };

    chart.setOption({
      animation: false,
      backgroundColor: '#ffffff',
      grid: { left: 297, top: 13, width: 1635, height: 1635, containLabel: false, outerBoundsMode: 'none' },
      xAxis: [
        {
          type: 'value', min: X_MIN, max: X_MAX, position: 'bottom',
          axisLine, axisTick: tickX, splitLine: { show: false },
          axisLabel: {
            customValues: X_TICKS, margin: 40, fontSize: 62, color: '#111', fontFamily: FONT,
            formatter: (v: number) => String(v)
          },
          name: 'log P', nameLocation: 'middle', nameGap: 138,
          nameTextStyle: { fontSize: 64, color: '#111', fontFamily: FONT }
        },
        {
          type: 'value', min: X_MIN, max: X_MAX, position: 'top',
          axisLine, axisTick: tickX, splitLine: { show: false }, axisLabel: { show: false }
        }
      ],
      yAxis: [
        {
          type: 'value', min: Y_MIN, max: Y_MAX, inverse: true, position: 'left',
          axisLine, axisTick: tickY, splitLine: { show: false },
          axisLabel: {
            customValues: Y_TICKS, margin: 42, fontSize: 62, color: '#111', fontFamily: FONT,
            formatter: (v: number) => String(v)
          }
        },
        {
          type: 'value', min: Y_MIN, max: Y_MAX, inverse: true, position: 'right',
          axisLine, axisTick: tickY, splitLine: { show: false }, axisLabel: { show: false }
        }
      ],
      series: [
        {
          type: 'scatter', name: 'RSG', data: blackStars, symbol: 'circle', symbolSize: 29,
          itemStyle: { color: '#000', opacity: 1 }, z: 2, progressive: 0
        },
        {
          type: 'scatter', name: 'AGB', data: blue, symbol: 'circle', symbolSize: 10,
          itemStyle: { color: '#0808d8', opacity: 1 }, z: 3, progressive: 0, large: false
        },
        {
          type: 'scatter', name: 'RSG2', data: redStars, symbol: TRIANGLE_PATH, symbolSize: [34, 29],
          itemStyle: { color: '#cc1a1a', opacity: 1 }, z: 4, progressive: 0
        }
      ]
    });

    const seqGraphics = SEQ_NAMES.map((n, i) => {
      const p = chart.convertToPixel({ xAxisIndex: 0, yAxisIndex: 0 }, [SEQ_X[i], SEQ_Y]) as number[];
      return {
        type: 'text', x: p[0], y: p[1],
        style: {
          text: n, fontSize: 60, fontFamily: FONT, fill: '#000',
          align: 'center', verticalAlign: 'middle', textAlign: 'center', textVerticalAlign: 'middle'
        }
      };
    });

    chart.setOption({
      graphic: [
        {
          type: 'text', x: 421, y: 156,
          style: {
            text: 'Vörös szuperóriások', fontSize: 83, fontFamily: FONT, fill: '#ff0000',
            align: 'left', verticalAlign: 'middle', textAlign: 'left', textVerticalAlign: 'middle'
          }
        },
        {
          type: 'text', x: 1402, y: 1303,
          style: {
            text: 'AGB csillagok', fontSize: 83, fontFamily: FONT, fill: '#ff0000',
            align: 'left', verticalAlign: 'middle', textAlign: 'left', textVerticalAlign: 'middle'
          }
        },
        {
          type: 'text', x: 50, y: 842, rotation: Math.PI / 2,
          style: {
            text: 'M', fontSize: 66, fontFamily: FONT, fill: '#111',
            align: 'center', verticalAlign: 'middle', textAlign: 'center', textVerticalAlign: 'middle'
          }
        },
        {
          type: 'text', x: 64, y: 791, rotation: Math.PI / 2,
          style: {
            text: 'K', fontSize: 46, fontFamily: FONT, fill: '#111',
            align: 'center', verticalAlign: 'middle', textAlign: 'center', textVerticalAlign: 'middle'
          }
        },
        ...seqGraphics
      ]
    });

    return () => chart.dispose();
  }, []);

  return <div ref={ref} style={{ width: 1940, height: 1864 }} />;
}
